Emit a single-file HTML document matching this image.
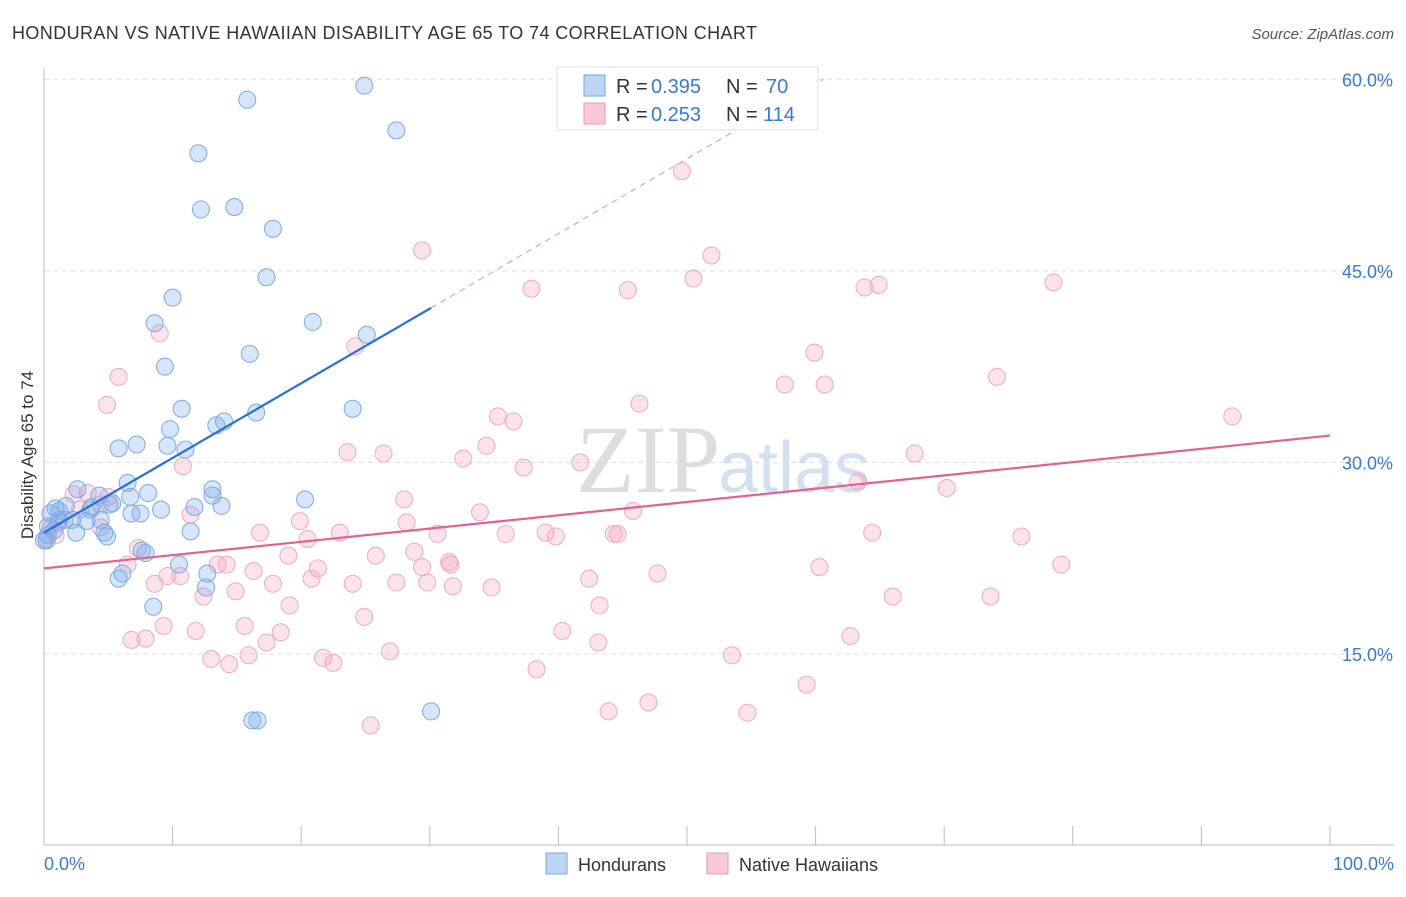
<!DOCTYPE html>
<html><head><meta charset="utf-8"><style>
body{margin:0;background:#fff;font-family:"Liberation Sans",sans-serif}
</style></head><body>
<svg width="1406" height="892" xmlns="http://www.w3.org/2000/svg" id="chart">
<text x="12" y="39" font-size="18" fill="#333" textLength="745" lengthAdjust="spacing">HONDURAN VS NATIVE HAWAIIAN DISABILITY AGE 65 TO 74 CORRELATION CHART</text>
<text x="1394" y="39" font-size="15" fill="#555" font-style="italic" text-anchor="end">Source: ZipAtlas.com</text>
<text x="720" y="492" font-size="96" fill="#ddd" text-anchor="end" font-family="Liberation Serif">ZIP</text>
<text x="718" y="492" font-size="72" fill="#d2e0f2">atlas</text>
<g id="grid"></g>
<g id="axes"></g>
<g id="marks"></g>
<text transform="translate(33,455) rotate(-90)" font-size="17" fill="#333" text-anchor="middle">Disability Age 65 to 74</text>
<g>
<rect x="557" y="67" width="261" height="63" fill="#fff" stroke="#ddd"/>
<rect x="584" y="75" width="21" height="21" fill="#bcd5f5" stroke="#7aa7e0"/>
<rect x="584" y="103" width="21" height="21" fill="#f9c8d7" stroke="#e99ab5"/>
<text x="616" y="93" font-size="20" fill="#333">R =</text>
<text x="651" y="93" font-size="20" fill="#3a78d6">0.395</text>
<text x="726" y="93" font-size="20" fill="#333">N =</text>
<text x="766" y="93" font-size="20" fill="#3a78d6">70</text>
<text x="616" y="121" font-size="20" fill="#333">R =</text>
<text x="651" y="121" font-size="20" fill="#3a78d6">0.253</text>
<text x="726" y="121" font-size="20" fill="#333">N =</text>
<text x="763" y="121" font-size="20" fill="#3a78d6">114</text>
</g>
<g>
<rect x="546" y="853" width="21" height="21" fill="#bcd5f5" stroke="#7aa7e0"/>
<text x="578" y="871" font-size="18" fill="#333">Hondurans</text>
<rect x="707" y="853" width="21" height="21" fill="#f9c8d7" stroke="#e99ab5"/>
<text x="739" y="871" font-size="18" fill="#333">Native Hawaiians</text>
</g>
</svg>
<script>
const yTicks=[15,30,45,60];
const yTickLabels=["15.0%","30.0%","45.0%","60.0%"];
const xTickLabels=["0.0%","100.0%"];
const blueX=[24.9,15.8,27.4,12.0,12.2,14.8,17.8,17.3,10.0,20.9,8.6,25.1,16.0,9.4,10.7,24.0,14.0,13.4,16.5,9.8,7.2,5.8,11.0,9.6,6.5,2.6,4.3,8.1,13.1,13.1,20.3,6.7,5.3,1.7,3.7,13.8,11.7,9.1,6.8,7.5,0.5,1.2,3.3,2.2,1.1,0.3,2.5,4.7,4.9,11.4,0.3,0.2,7.6,7.9,10.5,12.7,6.1,5.8,12.6,8.5,16.2,16.6,30.1,4.4,0.8,3.6,1.6,5.1,0.9,0.0];
const blueY=[59.5,58.4,56.0,54.2,49.8,50.0,48.3,44.5,42.9,41.0,40.9,40.0,38.5,37.5,34.2,34.2,33.2,32.9,33.9,32.6,31.4,31.1,31.0,31.3,28.4,27.9,27.4,27.6,27.9,27.4,27.1,27.3,26.8,26.6,26.5,26.6,26.5,26.3,26.0,26.0,26.0,26.2,25.4,25.5,25.3,25.0,24.5,24.5,24.2,24.6,24.3,23.9,23.1,22.9,22.0,21.3,21.3,20.9,20.2,18.7,9.8,9.8,10.5,25.5,24.7,26.3,25.5,26.7,26.4,23.9];
const pinkX=[49.6,29.4,51.9,50.5,37.9,45.4,64.9,63.8,78.5,9.0,24.2,59.9,5.8,57.6,60.7,74.1,4.9,46.3,92.4,35.3,36.5,34.4,23.6,26.4,32.6,67.7,41.7,37.3,10.8,63.3,70.2,2.3,28.0,3.4,5.0,45.8,33.9,19.9,11.4,28.2,16.8,23.0,4.4,39.0,35.9,39.8,64.4,44.3,44.6,30.6,76.0,20.5,19.0,28.8,25.8,31.5,7.3,31.6,13.5,14.2,29.4,6.5,16.3,21.3,20.8,47.7,9.6,10.6,60.3,79.1,42.4,17.8,27.4,24.0,29.8,31.8,34.8,8.6,14.9,12.4,66.0,73.6,19.1,43.2,24.9,9.3,15.6,11.8,18.4,40.3,6.8,7.9,17.3,62.7,43.1,13.0,15.9,26.9,21.7,22.5,14.4,53.5,38.3,59.3,47.0,43.9,54.7,25.4,0.2,0.5,1.2,2.8,4.4,0.9];
const pinkY=[52.8,46.6,46.2,44.4,43.6,43.5,43.9,43.7,44.1,40.1,39.1,38.6,36.7,36.1,36.1,36.7,34.5,34.6,33.6,33.6,33.2,31.3,30.8,30.7,30.3,30.7,30.0,29.6,29.7,28.5,28.0,27.5,27.1,27.6,27.3,26.2,26.1,25.4,25.9,25.3,24.5,24.5,24.9,24.5,24.4,24.2,24.5,24.4,24.4,24.4,24.2,24.0,22.7,23.0,22.7,22.2,23.3,22.0,22.0,22.0,21.8,22.0,21.5,21.7,20.9,21.3,21.1,21.1,21.8,22.0,20.9,20.5,20.6,20.5,20.6,20.3,20.2,20.5,19.9,19.5,19.5,19.5,18.8,18.8,17.9,17.2,17.2,16.8,16.7,16.8,16.1,16.2,15.9,16.4,15.9,14.6,14.9,15.2,14.7,14.3,14.2,14.9,13.8,12.6,11.2,10.5,10.4,9.4,23.9,24.9,25.5,26.3,26.7,24.3];
const blueTrend=[[0,24.5],[30.1,42.1]];
const blueTrendExt=[[30.1,42.1],[60.6,60]];
const pinkTrend=[[0,21.7],[100,32.1]];
const NS="http://www.w3.org/2000/svg";
const sx=v=>44+v*12.86;
const sy=v=>845.5-v*12.77;
function mk(tag,attrs,parent){const e=document.createElementNS(NS,tag);for(const k in attrs)e.setAttribute(k,attrs[k]);document.getElementById(parent).appendChild(e);return e;}
yTicks.forEach((t,i)=>{
 const g=mk('line',{x1:44,x2:1394,y1:sy(t),y2:sy(t),stroke:'#ddd','stroke-dasharray':'5,4'},'grid');
 
 
 const l=mk('text',{x:1393,y:sy(t)+7,'font-size':18,fill:'#3a78d6','text-anchor':'end'},'grid');
 l.textContent=yTickLabels[i];
 
 
});
const ax=mk('line',{x1:44,x2:44,y1:68,y2:845,stroke:'#bbb'},'axes');


const bx=mk('line',{x1:44,x2:1394,y1:845,y2:845,stroke:'#bbb'},'axes');


for(let i=0;i<=10;i++){
 const t=mk('line',{x1:sx(i*10),x2:sx(i*10),y1:826,y2:845,stroke:'#bbb'},'axes');
 
 
}
[[0,'start',44],[100,'end',1394]].forEach((d,i)=>{
 const l=mk('text',{x:d[2],y:870,'font-size':18,fill:'#3a78d6','text-anchor':d[1]},'axes');
 l.textContent=xTickLabels[i];
 
 
});
pinkX.forEach((x,i)=>{
 const c=mk('circle',{cx:sx(x),cy:sy(pinkY[i]),r:8.5,fill:'rgba(242,160,188,0.3)',stroke:'#eeaac2','stroke-width':1},'marks');
 
 
});
blueX.forEach((x,i)=>{
 const c=mk('circle',{cx:sx(x),cy:sy(blueY[i]),r:8.5,fill:'rgba(120,170,235,0.3)',stroke:'#7eaae4','stroke-width':1},'marks');
 
 
});
const t1=mk('line',{x1:sx(blueTrend[0][0]),y1:sy(blueTrend[0][1]),x2:sx(blueTrend[1][0]),y2:sy(blueTrend[1][1]),stroke:'#2a6fd6','stroke-width':2.2},'marks');


const t2=mk('line',{x1:sx(blueTrendExt[0][0]),y1:sy(blueTrendExt[0][1]),x2:sx(blueTrendExt[1][0]),y2:sy(blueTrendExt[1][1]),stroke:'#9bbbe6','stroke-width':1.2,'stroke-dasharray':'6,5'},'marks');


const t3=mk('line',{x1:sx(pinkTrend[0][0]),y1:sy(pinkTrend[0][1]),x2:sx(pinkTrend[1][0]),y2:sy(pinkTrend[1][1]),stroke:'#e4628e','stroke-width':2.2},'marks');


</script>
</body></html>
